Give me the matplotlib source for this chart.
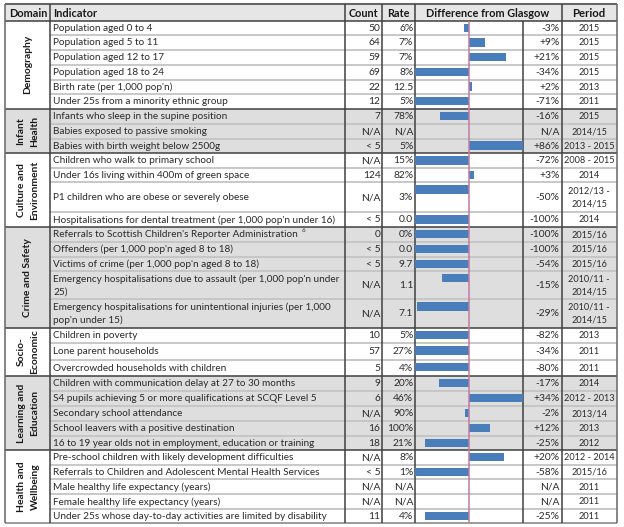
import matplotlib
matplotlib.use("Agg")
import matplotlib.pyplot as plt

plt.rcParams['font.family'] = ['Lato', 'DejaVu Sans']

# ---- data ----
domains = ["Demography", "Infant\nHealth", "Culture and\nEnvironment", "Crime and Safety",
           "Socio-\nEconomic", "Learning and\nEducation", "Health and\nWellbeing"]
domain_sizes = [6, 3, 4, 5, 3, 5, 5]
domain_shaded = [False, True, False, True, False, True, False]
indicators = [
    "Population aged 0 to 4", "Population aged 5 to 11", "Population aged 12 to 17",
    "Population aged 18 to 24", "Birth rate (per 1,000 pop'n)",
    "Under 25s from a minority ethnic group",
    "Infants who sleep in the supine position", "Babies exposed to passive smoking",
    "Babies with birth weight below 2500g",
    "Children who walk to primary school", "Under 16s living within 400m of green space",
    "P1 children who are obese or severely obese",
    "Hospitalisations for dental treatment (per 1,000 pop'n under 16)",
    "Referrals to Scottish Children's Reporter Administration",
    "Offenders (per 1,000 pop'n aged 8 to 18)", "Victims of crime (per 1,000 pop'n aged 8 to 18)",
    "Emergency hospitalisations due to assault (per 1,000 pop'n under\n25)",
    "Emergency hospitalisations for unintentional injuries (per 1,000\npop'n under 15)",
    "Children in poverty", "Lone parent households", "Overcrowded households with children",
    "Children with communication delay at 27 to 30 months",
    "S4 pupils achieving 5 or more qualifications at SCQF Level 5",
    "Secondary school attendance", "School leavers with a positive destination",
    "16 to 19 year olds not in employment, education or training",
    "Pre-school children with likely development difficulties",
    "Referrals to Children and Adolescent Mental Health Services",
    "Male healthy life expectancy (years)", "Female healthy life expectancy (years)",
    "Under 25s whose day-to-day activities are limited by disability",
]
counts = ["50", "64", "59", "69", "22", "12", "7", "N/A", "< 5", "N/A", "124", "N/A", "< 5",
          "0", "< 5", "< 5", "N/A", "N/A", "10", "57", "5", "9", "6", "N/A", "16", "18",
          "N/A", "< 5", "N/A", "N/A", "11"]
rates = ["6%", "7%", "7%", "8%", "12.5", "5%", "78%", "N/A", "5%", "15%", "82%", "3%", "0.0",
         "0%", "0.0", "9.7", "1.1", "7.1", "5%", "27%", "4%", "20%", "46%", "90%", "100%", "21%",
         "8%", "1%", "N/A", "N/A", "4%"]
differences = [-3, 9, 21, -34, 2, -71, -16, None, 86, -72, 3, -50, -100, -100, -100, -54, -15, -29,
               -82, -34, -80, -17, 34, -2, 12, -25, 20, -58, None, None, -25]
periods = ["2015", "2015", "2015", "2015", "2013", "2011", "2015", "2014/15", "2013 - 2015",
           "2008 - 2015", "2014", "2012/13 -\n2014/15", "2014", "2015/16", "2015/16", "2015/16",
           "2010/11 -\n2014/15", "2010/11 -\n2014/15", "2013", "2011", "2011", "2014",
           "2012 - 2013", "2013/14", "2013", "2012", "2012 - 2014", "2015/16", "2011", "2011", "2011"]
headers = ["Domain", "Indicator", "Count", "Rate", "Difference from Glasgow", "Period"]

# ---- layout (pixels) ----
W, H = 624, 527
row_edges = [20.7, 35.3, 50, 65, 79.5, 94, 109, 124, 138.5, 153.2, 168, 182.3, 212.3, 226.7,
             241.7, 256.7, 271, 299.3, 327.7, 343.3, 360, 376, 391, 406, 420.7, 435.7, 450,
             465, 479.3, 494.3, 509, 523.3]
top = 3.5
x_left, x_dom, x_ind, x_cnt, x_rate, x_bar, x_diff, x_per = 5, 50, 345, 382, 415.3, 523.3, 561.7, 616.7
FS = 7.2
TXT = "#2a2a2a"
DARK = "#404040"
LIGHT = "#c4c4c4"
SHADE = "#dedede"
HEAD = "#e6e6e6"
BAR = "#4a7ebb"
PINK = "#c27ba0"

fig = plt.figure(figsize=(W / 100, H / 100), dpi=100, facecolor="white")
ax = fig.add_axes([0, 0, 1, 1])
ax.set_xlim(0, W)
ax.set_ylim(H, 0)
ax.axis("off")

# header
ax.fill_between([x_left, x_per], top, row_edges[0], color=HEAD, lw=0, zorder=0)
header_x = [(x_left + x_dom) / 2 + 1, x_dom + 3, (x_ind + x_cnt) / 2, (x_cnt + x_rate) / 2,
            (x_rate + x_diff) / 2 - 0.5, (x_diff + x_per) / 2]
header_ha = ["center", "left", "center", "center", "center", "center"]
header_fs = [7.9, 7.9, 7.8, 7.8, 7.95, 8.2]
for hx, h, ha, hfs in zip(header_x, headers, header_ha, header_fs):
    ax.text(hx, (top + row_edges[0]) / 2, h, fontsize=hfs, fontweight="bold",
            ha=ha, va="center_baseline", color="#1a1a1a")

# domain bands and group borders
group_rows = []
r = 0
for name, n, sh in zip(domains, domain_sizes, domain_shaded):
    y0, y1 = row_edges[r], row_edges[r + n]
    if sh:
        ax.fill_between([x_left, x_per], y0, y1, color=SHADE, lw=0, zorder=0)
    ax.text((x_left + x_dom) / 2 + 0.5, (y0 + y1) / 2, name, rotation=90, fontsize=7.4,
            fontweight="bold", ha="center", va="center", multialignment="center",
            color="#1a1a1a", linespacing=1.7)
    group_rows.append((r, r + n))
    r += n

# inner row lines
group_edges = {g[0] for g in group_rows} | {group_rows[-1][1]}
for i, y in enumerate(row_edges):
    if i not in group_edges:
        ax.plot([x_dom, x_per], [y, y], color=LIGHT, lw=1.3, zorder=1, solid_capstyle="butt")
# group lines
for i in sorted(group_edges):
    col = DARK if i != len(indicators) else "#808080"
    ax.plot([x_left, x_per], [row_edges[i]] * 2, color=col, lw=1.1, zorder=2, solid_capstyle="butt")
ax.plot([x_left, x_per], [top, top], color="#666666", lw=1.5, zorder=2, solid_capstyle="butt")

# vertical lines
for vx in [x_dom, x_ind, x_cnt, x_rate]:
    ax.plot([vx, vx], [top, row_edges[-1]], color=DARK, lw=1.1, zorder=2, solid_capstyle="butt")
ax.plot([x_bar, x_bar], [row_edges[0], row_edges[-1]], color=DARK, lw=1.1, zorder=2, solid_capstyle="butt")
ax.plot([x_diff, x_diff], [top, row_edges[-1]], color=DARK, lw=1.1, zorder=2, solid_capstyle="butt")
for vx in [x_left, x_per]:
    ax.plot([vx, vx], [top, row_edges[-1]], color="#666666", lw=1.1, zorder=2, solid_capstyle="butt")

# row text
for i in range(len(indicators)):
    yc = (row_edges[i] + row_edges[i + 1]) / 2 + 0.3
    ax.text(x_dom + 3, yc, indicators[i], fontsize=FS, color=TXT, ha="left", va="center",
            linespacing=1.43)
    ax.text(x_cnt - 1.5, yc, counts[i], fontsize=FS + 0.2, color=TXT, ha="right", va="center")
    ax.text(x_rate - 2, yc, rates[i], fontsize=FS + 0.2, color=TXT, ha="right", va="center")
    d = differences[i]
    lab = "N/A" if d is None else f"{d:+d}%"
    ax.text(x_diff - 2, yc, lab, fontsize=FS + 0.2, color=TXT, ha="right", va="center")
    ax.text((x_diff + x_per) / 2, yc, periods[i], fontsize=6.6, color=TXT, ha="center",
            va="center", linespacing=1.55)

# footnote marker
ax.text(303, 230.5, "6", fontsize=4.5, color=TXT, ha="center", va="center")

# bars: separate axes, percent scale on x, pixel rows on y
bx = fig.add_axes([x_rate / W, 0, (x_bar - x_rate) / W, 1])
bx.set_xlim(-30.2, 30.7)
bx.set_ylim(H, 0)
bx.axis("off")
bx.patch.set_alpha(0)
for i, d in enumerate(differences):
    if d is None:
        continue
    bx.barh(row_edges[i] + 2.9, d, height=8.5, align="edge", color=BAR, edgecolor="none", zorder=3)
bx.plot([0, 0], [row_edges[0], row_edges[-1]], color=PINK, lw=1.1, zorder=4, solid_capstyle="butt")

fig.savefig("out.png", dpi=100, facecolor="white")
